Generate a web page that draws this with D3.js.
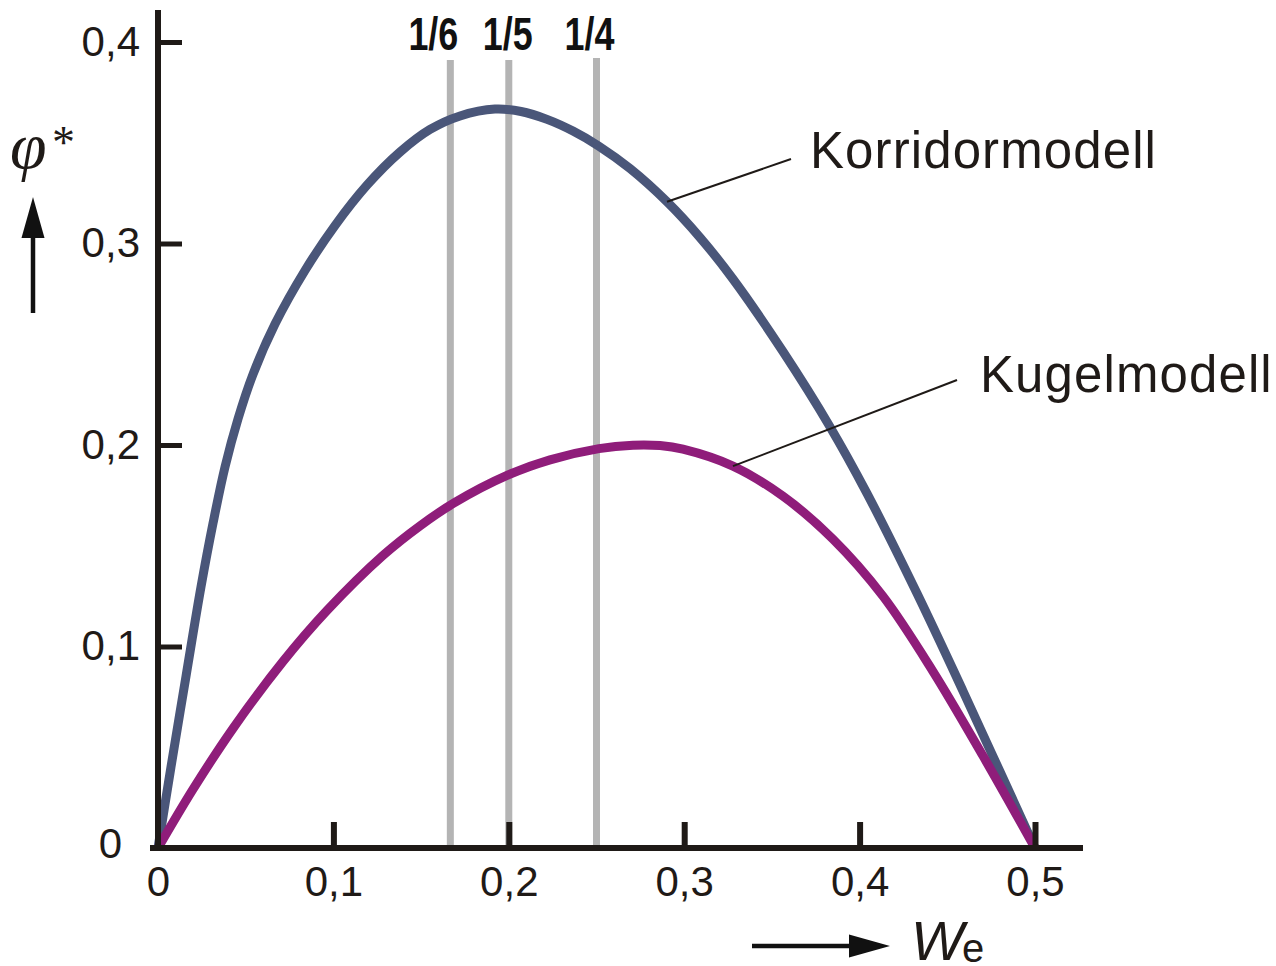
<!DOCTYPE html>
<html>
<head>
<meta charset="utf-8">
<script src="https://cdn.jsdelivr.net/npm/d3@7/dist/d3.min.js"></script>
<style>
  html, body { margin: 0; padding: 0; background: #ffffff; }
  svg { display: block; }
</style>
</head>
<body>
<svg id="chart" width="1276" height="966"></svg>
<script>
// Korridormodell: phi* over w_e
const korridorWe  = [0, 0.0074, 0.016, 0.0245, 0.0314, 0.0382, 0.0456, 0.0542, 0.0667, 0.0838, 0.1009, 0.1192, 0.138, 0.1551, 0.1722, 0.1921, 0.207, 0.2218, 0.2366, 0.2514, 0.2691, 0.2902, 0.309, 0.3278, 0.3563, 0.3831, 0.4042, 0.4327, 0.4589, 0.48, 0.5];
const korridorPhi = [0, 0.0402, 0.0854, 0.1295, 0.1613, 0.1891, 0.2129, 0.2352, 0.26, 0.2866, 0.3089, 0.329, 0.3454, 0.3566, 0.3633, 0.3667, 0.3655, 0.3616, 0.3558, 0.3483, 0.3372, 0.3207, 0.303, 0.2824, 0.2464, 0.2091, 0.176, 0.1264, 0.078, 0.038, 0];

// Kugelmodell: phi* over w_e
const kugelWe  = [0, 0.02, 0.0428, 0.0713, 0.0964, 0.1283, 0.1494, 0.1693, 0.199, 0.2235, 0.2514, 0.2708, 0.2862, 0.2993, 0.3278, 0.3563, 0.3848, 0.4133, 0.4418, 0.4704, 0.5];
const kugelPhi = [0, 0.0292, 0.0594, 0.0926, 0.1179, 0.1452, 0.1599, 0.1715, 0.1849, 0.1926, 0.1982, 0.1999, 0.1997, 0.1979, 0.1895, 0.1746, 0.1533, 0.125, 0.0877, 0.0456, 0];

// reference fractions drawn as grey verticals
const refValues = [1 / 6, 1 / 5, 1 / 4];
const refLabels = ["1/6", "1/5", "1/4"];

// axis ticks
const xTicks = [0, 0.1, 0.2, 0.3, 0.4, 0.5];
const xTickLabels = ["0", "0,1", "0,2", "0,3", "0,4", "0,5"];
const yTicks = [0, 0.1, 0.2, 0.3, 0.4];
const yTickLabels = ["0", "0,1", "0,2", "0,3", "0,4"];

// series names and the w_e where each leader line touches its curve
const seriesNames = ["Korridormodell", "Kugelmodell"];
const leaderWe = [0.2902, 0.3278];

const COL_BLUE = "#4a5679";
const COL_PURPLE = "#8f1d7a";
const COL_GREY = "#b4b4b4";
const COL_INK = "#1f1a17";
const SANS = "'Liberation Sans', Arial, Helvetica, sans-serif";
const SERIF = "'Liberation Serif', 'Times New Roman', serif";

const svg = d3.select("#chart");

const x = d3.scaleLinear().domain([0, 0.5]).range([158, 1035]);
const y = d3.scaleLinear().domain([0, 0.4]).range([848, 42]);

const series = [
  { name: seriesNames[0], we: korridorWe, phi: korridorPhi, color: COL_BLUE },
  { name: seriesNames[1], we: kugelWe, phi: kugelPhi, color: COL_PURPLE }
];

// grey reference verticals
svg.append("g").selectAll("line")
  .data(refValues)
  .join("line")
  .attr("x1", d => x(d)).attr("x2", d => x(d))
  .attr("y1", (d, i) => i === 2 ? 58 : 60)
  .attr("y2", y(0))
  .attr("stroke", COL_GREY)
  .attr("stroke-width", 7);

// fraction labels above the verticals (condensed by horizontal scaling)
const refDx = [-17, -1, -7];
svg.append("g").selectAll("text")
  .data(refValues)
  .join("text")
  .attr("transform", (d, i) => `translate(${x(d) + refDx[i]},50) scale(0.78,1)`)
  .attr("text-anchor", "middle")
  .attr("font-family", SANS)
  .attr("font-weight", "bold")
  .attr("font-size", 46)
  .attr("fill", "#111")
  .text((d, i) => refLabels[i]);

// curves
const line = d3.line()
  .x(d => x(d[0]))
  .y(d => y(d[1]))
  .curve(d3.curveCatmullRom.alpha(0.5));

svg.append("g").selectAll("path")
  .data(series)
  .join("path")
  .attr("d", s => line(s.we.map((w, i) => [w, s.phi[i]])))
  .attr("fill", "none")
  .attr("stroke", s => s.color)
  .attr("stroke-width", 9)
  .attr("stroke-linejoin", "round");

// leader lines and series labels
const leaderEnds = [[791, 159], [957, 380]];
const labelPos = [[810, 168], [980, 392]];
series.forEach((s, i) => {
  const w = leaderWe[i];
  const phiAt = d3.scaleLinear().domain(s.we).range(s.phi)(w);
  svg.append("line")
    .attr("x1", x(w)).attr("y1", y(phiAt))
    .attr("x2", leaderEnds[i][0]).attr("y2", leaderEnds[i][1])
    .attr("stroke", COL_INK)
    .attr("stroke-width", 2);
  svg.append("text")
    .attr("x", labelPos[i][0]).attr("y", labelPos[i][1])
    .attr("font-family", SANS)
    .attr("font-size", 51)
    .attr("letter-spacing", 1.1)
    .attr("fill", COL_INK)
    .text(s.name);
});

// x axis
const xAxis = d3.axisBottom(x)
  .tickValues(xTicks)
  .tickFormat((d, i) => xTickLabels[i])
  .tickSizeInner(-26)
  .tickSizeOuter(0)
  .tickPadding(18);
const gx = svg.append("g").attr("transform", `translate(0,${y(0)})`).call(xAxis);
gx.select(".domain").remove();
gx.selectAll(".tick line").attr("stroke", COL_INK).attr("stroke-width", 6);
gx.selectAll(".tick text")
  .attr("font-family", SANS).attr("font-size", 42).attr("fill", COL_INK);
gx.selectAll(".tick").filter(d => d === 0).select("line").remove();

// y axis
const yAxis = d3.axisLeft(y)
  .tickValues(yTicks)
  .tickFormat((d, i) => yTickLabels[i])
  .tickSizeInner(-24)
  .tickSizeOuter(0)
  .tickPadding(18);
const gy = svg.append("g").attr("transform", `translate(${x(0)},0)`).call(yAxis);
gy.select(".domain").remove();
gy.selectAll(".tick line").attr("stroke", COL_INK).attr("stroke-width", 5);
gy.selectAll(".tick text")
  .attr("font-family", SANS).attr("font-size", 42).attr("fill", COL_INK);
const zeroTick = gy.selectAll(".tick").filter(d => d === 0);
zeroTick.select("line").remove();
zeroTick.select("text").attr("x", -36).attr("dy", "0.22em");

// axis lines
svg.append("line")
  .attr("x1", 150).attr("x2", 1083)
  .attr("y1", y(0)).attr("y2", y(0))
  .attr("stroke", COL_INK).attr("stroke-width", 6);
svg.append("line")
  .attr("x1", x(0)).attr("x2", x(0))
  .attr("y1", 10).attr("y2", y(0) + 3)
  .attr("stroke", COL_INK).attr("stroke-width", 6);

// y-axis title: phi* with upward arrow
svg.append("text")
  .attr("x", 10).attr("y", 168)
  .attr("font-family", SERIF)
  .attr("font-style", "italic")
  .attr("font-size", 66)
  .attr("fill", COL_INK)
  .text("\u03C6");
svg.append("text")
  .attr("x", 52).attr("y", 158)
  .attr("font-family", SERIF)
  .attr("font-size", 46)
  .attr("fill", COL_INK)
  .text("*");
svg.append("line")
  .attr("x1", 33).attr("x2", 33).attr("y1", 313).attr("y2", 234)
  .attr("stroke", "#111").attr("stroke-width", 4.5);
svg.append("path")
  .attr("d", "M33,197 L44.5,238 L21.5,238 Z")
  .attr("fill", "#111");

// x-axis title: W_e with rightward arrow
svg.append("line")
  .attr("x1", 752).attr("x2", 853).attr("y1", 946).attr("y2", 946)
  .attr("stroke", "#111").attr("stroke-width", 4.5);
svg.append("path")
  .attr("d", "M890,946 L849,934.5 L849,957.5 Z")
  .attr("fill", "#111");
svg.append("text")
  .attr("x", 911).attr("y", 960)
  .attr("font-family", SANS)
  .attr("font-style", "italic")
  .attr("font-size", 56)
  .attr("fill", COL_INK)
  .text("W");
svg.append("text")
  .attr("x", 962).attr("y", 962)
  .attr("font-family", SANS)
  .attr("font-size", 40)
  .attr("fill", COL_INK)
  .text("e");
</script>
</body>
</html>
